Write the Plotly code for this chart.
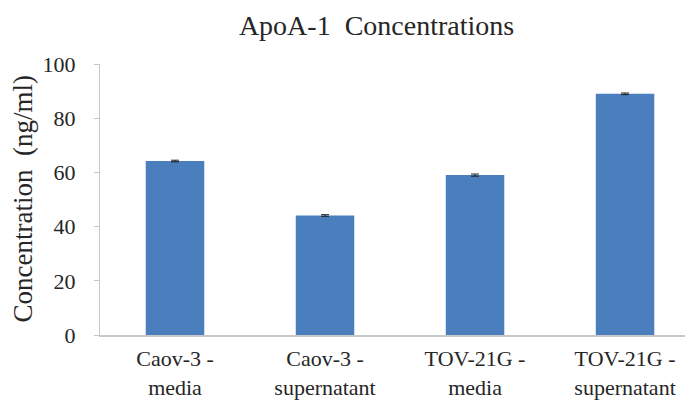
import plotly.graph_objects as go

categories = ["Caov-3 -<br>media", "Caov-3 -<br>supernatant", "TOV-21G -<br>media", "TOV-21G -<br>supernatant"]
values = [64.2, 44.1, 59.0, 89.0]
errors = [0.3, 0.3, 0.4, 0.3]
y_ticks = [0, 20, 40, 60, 80, 100]

fig = go.Figure()
fig.add_trace(go.Bar(
    x=list(range(len(categories))), y=values,
    width=0.39,
    marker=dict(color="#4a7ebd", line=dict(width=0)),
    error_y=dict(type="data", array=errors, color="#1f1f1f", thickness=1, width=4),
))

font = "Liberation Serif, Times New Roman, serif"
txt = "#262626"
fig.update_layout(
    width=685, height=393,
    margin=dict(l=92, r=0, t=56, b=66, autoexpand=False),
    paper_bgcolor="white", plot_bgcolor="white",
    showlegend=False,
    font=dict(family=font, size=20, color=txt),
    title=dict(text="ApoA-1  Concentrations", x=0.538, xanchor="center", y=0.957, yanchor="middle",
               font=dict(family=font, size=28, color=txt)),
    xaxis=dict(
        range=[-0.5, 3.453], automargin=False,
        tickmode="array", tickvals=list(range(len(categories))), ticktext=categories,
        showline=True, linecolor="#c8c8c8", linewidth=1.5,
        ticks="", showgrid=False, zeroline=False, ticklabelstandoff=3,
        tickfont=dict(family=font, size=22, color=txt),
    ),
    yaxis=dict(
        range=[0, 100], tickmode="array", tickvals=y_ticks, automargin=False,
        showline=True, linecolor="#c8c8c8", linewidth=1,
        ticks="outside", ticklen=5, tickcolor="#c8c8c8",
        showgrid=False, zeroline=False, ticklabelstandoff=14,
        tickfont=dict(family=font, size=22, color=txt),
    ),
    annotations=[dict(
        text="Concentration  (ng/ml)", xref="paper", yref="paper",
        x=-0.1315, y=0.5, xanchor="center", yanchor="middle", textangle=-90,
        showarrow=False, font=dict(family=font, size=27, color=txt),
    )],
)

fig.write_html("out.html")
